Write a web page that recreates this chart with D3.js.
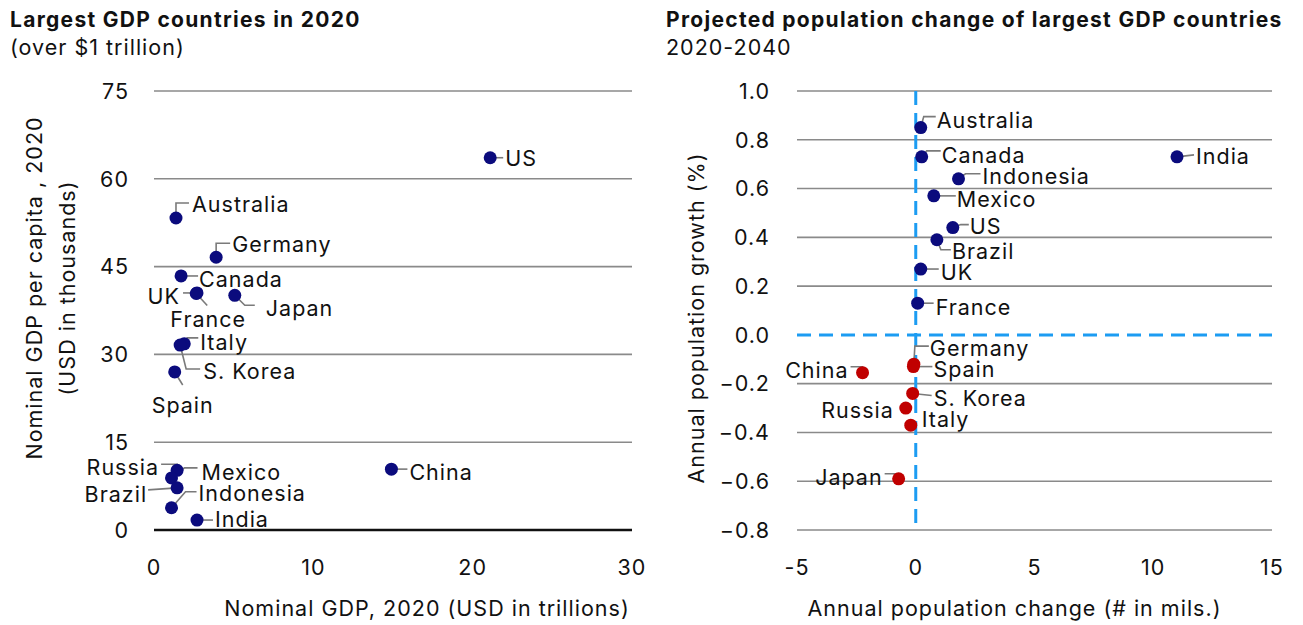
<!DOCTYPE html>
<html><head><meta charset="utf-8">
<script src="https://cdn.jsdelivr.net/npm/d3@7/dist/d3.min.js"></script>
<style>
body{margin:0;background:#fff;}
svg text{font-family:Inter,"Noto Sans",sans-serif;fill:#111;letter-spacing:1px;}
</style></head>
<body><svg id="c" width="1303" height="625"></svg>
<script>
// ---------- data ----------
const countries   = ["US","Australia","Germany","Canada","UK","France","Japan","Italy","S. Korea","Spain","China","Russia","Mexico","Brazil","Indonesia","India"];
const gdp         = [21.1, 1.38, 3.9, 1.7, 2.7, 2.65, 5.07, 1.9, 1.64, 1.3, 14.9, 1.45, 1.1, 1.45, 1.1, 2.7];   // USD trillions
const gdpPerCap   = [63.6, 53.3, 46.6, 43.4, 40.5, 40.4, 40.1, 31.8, 31.6, 27.0, 10.4, 10.2, 8.9, 7.2, 3.8, 1.7]; // USD thousands
const popChange   = [1.56, 0.21, -0.08, 0.25, 0.21, 0.08, -0.72, -0.21, -0.13, -0.10, -2.24, -0.42, 0.76, 0.89, 1.8, 11.0]; // millions / yr
const popGrowth   = [0.44, 0.85, -0.12, 0.73, 0.27, 0.13, -0.59, -0.37, -0.24, -0.13, -0.155, -0.30, 0.57, 0.39, 0.64, 0.73]; // %

const leftXTicks  = [0, 10, 20, 30];
const leftYTicks  = [0, 15, 30, 45, 60, 75];
const rightXTicks = [-5, 0, 5, 10, 15];
const rightYTicks = [-0.8, -0.6, -0.4, -0.2, 0.0, 0.2, 0.4, 0.6, 0.8, 1.0];

// ---------- label layout (pixel offsets from each dot) ----------
const leftLabels = {
  "US":[15,1,"start",[[0,0],[13,0]]],
  "Australia":[16,-14,"start",[[0,0],[0,-15],[13,-15]]],
  "Germany":[16,-13,"start",[[0,0],[0,-14],[14,-14]]],
  "Canada":[18,3,"start",[[0,0],[17,0]]],
  "UK":[-17,3,"end",[[0,0],[-14,0]]],
  "France":[12,26,"middle",[[0,0],[11,12]]],
  "Japan":[31,13,"start",[[0,0],[10,10],[20,10]]],
  "Italy":[16,-2,"start",[[0,0],[3,-6],[14,-6]]],
  "S. Korea":[23,26,"start",[[0,0],[6,24],[20,24]]],
  "Spain":[8,33,"middle",[[0,0],[8,13]]],
  "China":[18,3,"start",[[0,0],[16,0]]],
  "Russia":[-18,-3,"end",[[0,0],[0,-6],[-16,-6]]],
  "Mexico":[30,-6,"start",[[0,0],[13,-10],[26,-10]]],
  "Brazil":[-30,6,"end",[[0,0],[-29,2]]],
  "Indonesia":[27,-14,"start",[[0,0],[14,-16],[25,-16]]],
  "India":[18,-1,"start",[[0,0],[16,0]]]
};
const rightLabels = {
  "Australia":[16,-7,"start",[[0,0],[3,-11],[15,-11]]],
  "Canada":[20,-2,"start",[[0,0],[5,-6],[19,-6]]],
  "Indonesia":[24,-3,"start",[[0,0],[7,-5],[22,-5]]],
  "Mexico":[23,3,"start",[[0,0],[22,0]]],
  "US":[17,-1,"start",[[0,0],[8,-3],[16,-3]]],
  "Brazil":[15,11,"start",[[0,0],[4,10],[14,10]]],
  "UK":[20,3,"start",[[0,0],[18,0]]],
  "France":[18,4,"start",[[0,0],[16,0]]],
  "India":[19,-1,"start",[[0,0],[17,-2]]],
  "China":[-14,-2,"end",[[0,0],[0,-6],[-12,-6]]],
  "Germany":[16,-16,"start",[[0,0],[1,-18],[15,-18]]],
  "Spain":[20,3,"start",[[0,0],[19,0]]],
  "S. Korea":[21,5,"start",[[0,0],[19,2]]],
  "Russia":[-12,2,"end",[]],
  "Italy":[11,-6,"start",[]],
  "Japan":[-16,-2,"end",[[0,0],[-2,-5],[-14,-5]]]
};

const NAVY = "#0b0b7d", RED = "#c00000", GRID = "#8a8a8a", BLUE = "#1c9cf2";
const svg = d3.select("#c");
const FS = 21.5;

function panel(opts){
  const g = svg.append("g");
  const x = d3.scaleLinear().domain(opts.xd).range(opts.xr);
  const y = d3.scaleLinear().domain(opts.yd).range(opts.yr);
  g.selectAll("line.grid").data(opts.yTicks.filter(opts.gridFilter)).enter().append("line")
    .attr("x1", opts.xr[0]).attr("x2", opts.xr[1])
    .attr("y1", d=>y(d)).attr("y2", d=>y(d))
    .attr("stroke", GRID).attr("stroke-width", 1.6);
  if (opts.extra) opts.extra(g, x, y);
  g.selectAll("text.yt").data(opts.yTicks).enter().append("text")
    .attr("x", opts.yLabelX).attr("y", d=>y(d)).attr("dy","0.36em")
    .attr("text-anchor","end").attr("font-size",FS).text(opts.yFmt);
  g.selectAll("text.xt").data(opts.xTicks).enter().append("text")
    .attr("x", d=>x(d)).attr("y", 575)
    .attr("text-anchor","middle").attr("font-size",FS).text(d=>d);
  const pts = countries.map((c,i)=>({c, px:x(opts.xs[i]), py:y(opts.ys[i]), v:opts.ys[i], L:opts.labels[c]}));
  const line = d3.line();
  g.selectAll("path.ld").data(pts.filter(p=>p.L[3].length)).enter().append("path")
    .attr("d", p=>line(p.L[3].map(q=>[p.px+q[0], p.py+q[1]])))
    .attr("fill","none").attr("stroke","#7a7a7a").attr("stroke-width",1.6);
  g.selectAll("circle").data(pts).enter().append("circle")
    .attr("cx", p=>p.px).attr("cy", p=>p.py).attr("r", 6.5)
    .attr("fill", opts.color);
  g.selectAll("text.lb").data(pts).enter().append("text")
    .attr("x", p=>p.px+p.L[0]).attr("y", p=>p.py+p.L[1]).attr("dy","0.36em")
    .attr("text-anchor", p=>p.L[2]).attr("font-size",FS).text(p=>p.c);
  svg.append("text").attr("x",opts.tx).attr("y",27).attr("font-size",21).attr("font-weight",700)
    .style("letter-spacing","1.3px").text(opts.title);
  svg.append("text").attr("x",opts.tx).attr("y",55).attr("font-size",FS).text(opts.sub);
  svg.append("text").attr("x",(opts.xr[0]+opts.xr[1])/2 + opts.xtOff).attr("y",616).attr("text-anchor","middle").attr("font-size",FS).text(opts.xTitle);
  const yt = svg.append("text").attr("transform",`translate(${opts.ytX},${opts.ytY}) rotate(-90)`)
    .attr("text-anchor","middle").attr("font-size",FS);
  opts.yTitle.forEach((s,i)=>yt.append("tspan").attr("x",0).attr("dy", i? "1.52em":0).text(s));
  return g;
}

panel({
  xd:[0,30], xr:[154,632], yd:[0,75], yr:[530,91],
  xTicks:leftXTicks, yTicks:leftYTicks, gridFilter:d=>d!==0,
  yLabelX:129, yFmt:d=>d, xs:gdp, ys:gdpPerCap, labels:leftLabels,
  color:()=>NAVY,
  extra:(g,x,y)=>{ g.append("line").attr("x1",154).attr("x2",632).attr("y1",y(0)).attr("y2",y(0)).attr("stroke","#111").attr("stroke-width",2.5); },
  title:"Largest GDP countries in 2020", sub:"(over $1 trillion)", tx:10,
  xTitle:"Nominal GDP, 2020 (USD in trillions)", xtOff:34,
  yTitle:["Nominal GDP per capita , 2020","(USD in thousands)"], ytX:42, ytY:288
});

panel({
  xd:[-5,15], xr:[797,1272], yd:[-0.8,1.0], yr:[530,91],
  xTicks:rightXTicks, yTicks:rightYTicks, gridFilter:d=>Math.abs(d)>1e-9,
  yLabelX:770, yFmt:d=>d3.format(".1f")(d), xs:popChange, ys:popGrowth, labels:rightLabels,
  color:p=>p.v<0?RED:NAVY,
  extra:(g,x,y)=>{
    g.append("line").attr("x1",797).attr("x2",1272).attr("y1",y(0)).attr("y2",y(0))
      .attr("stroke",BLUE).attr("stroke-width",3).attr("stroke-dasharray","14 8");
    g.append("line").attr("x1",x(0)).attr("x2",x(0)).attr("y1",91).attr("y2",530)
      .attr("stroke",BLUE).attr("stroke-width",3).attr("stroke-dasharray","14 8");
  },
  title:"Projected population change of largest GDP countries", sub:"2020-2040", tx:666,
  xTitle:"Annual population change (# in mils.)", xtOff:-20,
  yTitle:["Annual population growth (%)"], ytX:704, ytY:318
});
</script></body></html>
